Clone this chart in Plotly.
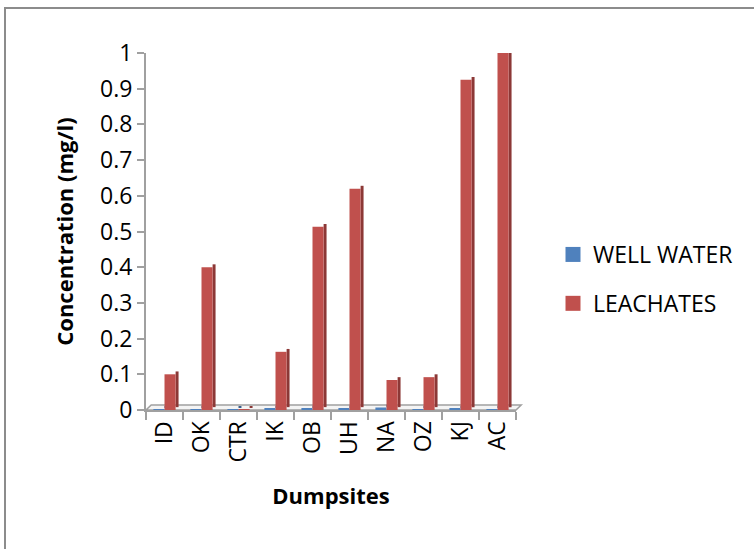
import plotly.graph_objects as go

# Dumpsite codes along the category axis
sites = ["ID", "OK", "CTR", "IK", "OB", "UH", "NA", "OZ", "KJ", "AC"]

# Concentrations (mg/l)
well_water = [0.002, 0.002, 0.001, 0.003, 0.004, 0.004, 0.007, 0.002, 0.003, 0.002]
leachates = [0.10, 0.40, 0.002, 0.163, 0.513, 0.62, 0.084, 0.092, 0.925, 1.0]

y_ticks = [0, 0.1, 0.2, 0.3, 0.4, 0.5, 0.6, 0.7, 0.8, 0.9, 1.0]
y_tick_text = ["0", "0.1", "0.2", "0.3", "0.4", "0.5", "0.6", "0.7", "0.8", "0.9", "1"]

BLUE = "#4F81BD"
BLUE_DARK = "#385D8A"
RED = "#C0504D"
RED_DARK = "#8C3836"
AXIS_GREY = "#A0A0A0"
FONT = "Open Sans"

BAR_W = 0.3      # width of each front face in category units
SIDE_W = 0.08    # shaded right face
DEPTH = 0.008    # vertical lift of the shaded face

fig = go.Figure()

# shaded right-hand faces give the columns their depth
fig.add_trace(go.Bar(x=sites, y=well_water, base=DEPTH, width=SIDE_W, offset=0.0,
                     marker=dict(color=BLUE_DARK, line=dict(width=0)),
                     showlegend=False, hoverinfo="skip"))
fig.add_trace(go.Bar(x=sites, y=leachates, base=DEPTH, width=SIDE_W, offset=BAR_W,
                     marker=dict(color=RED_DARK, line=dict(width=0)),
                     showlegend=False, hoverinfo="skip"))

# front faces
fig.add_trace(go.Bar(x=sites, y=well_water, name="WELL WATER", width=BAR_W, offset=-BAR_W,
                     marker=dict(color=BLUE, line=dict(width=0)),
                     showlegend=False, legendgroup="w"))
fig.add_trace(go.Bar(x=sites, y=leachates, name="LEACHATES", width=BAR_W, offset=0.0,
                     marker=dict(color=RED, line=dict(width=0)),
                     showlegend=False, legendgroup="l"))

# legend keys: square swatches for each series
for name, color, grp in [("WELL WATER", BLUE, "w"), ("LEACHATES", RED, "l")]:
    fig.add_trace(go.Scatter(x=[None], y=[None], mode="markers", name=name,
                             legendgroup=grp,
                             marker=dict(symbol="square", size=15, color=color,
                                         line=dict(width=0))))

fig.update_layout(
    width=754, height=549,
    margin=dict(l=146, r=238, t=53, b=139),
    paper_bgcolor="white", plot_bgcolor="white",
    barmode="overlay",
    font=dict(family=FONT, size=23, color="black"),
    showlegend=True,
    legend=dict(x=1.1, y=0.367, xanchor="left", yanchor="middle",
                xref="paper", yref="paper",
                font=dict(family=FONT, size=23, color="black"),
                traceorder="grouped", tracegroupgap=16,
                bgcolor="rgba(0,0,0,0)"),
    xaxis=dict(
        type="category",
        tickangle=-90,
        ticks="outside", ticklen=8, tickcolor=AXIS_GREY, tickwidth=1.5,
        tickson="boundaries",
        showline=True, linecolor=AXIS_GREY, linewidth=2,
        showgrid=False, zeroline=False,
        tickfont=dict(family=FONT, size=23),
        title=dict(text="<b>Dumpsites</b>", font=dict(family=FONT, size=22), standoff=27),
        range=[-0.5, 9.5],
    ),
    yaxis=dict(
        range=[0, 1.0],
        tickvals=y_ticks, ticktext=y_tick_text,
        ticks="outside", ticklen=7, tickcolor=AXIS_GREY, tickwidth=1.5,
        showline=True, linecolor=AXIS_GREY, linewidth=2,
        showgrid=False, zeroline=False,
        tickfont=dict(family=FONT, size=23),
        title=dict(text="<b>Concentration (mg/l)</b>", font=dict(family=FONT, size=22), standoff=20),
    ),
    shapes=[
        # outer chart frame
        dict(type="rect", xref="paper", yref="paper", layer="below",
             x0=-141 / 370, x1=(754 - 146 + 20) / 370,
             y0=-(139 + 20) / 357, y1=1 + 45 / 357,
             line=dict(color="#8C8C8C", width=2), fillcolor="rgba(0,0,0,0)"),
        # thin floor slab under the columns
        dict(type="path", xref="paper", yref="paper", layer="below",
             path="M 0,0 L 1,0 L 1.014,0.014 L 0.014,0.014 Z",
             line=dict(color=AXIS_GREY, width=1.5), fillcolor="#F4F4F4"),
    ],
)

fig.write_html("out.html")
